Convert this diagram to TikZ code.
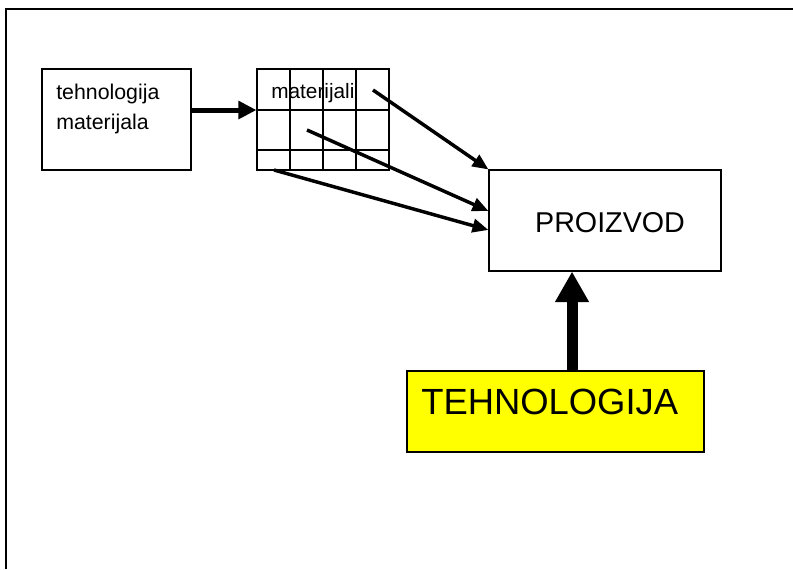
\documentclass[tikz,border=0pt]{standalone}
\usepackage{fontspec}
\setmainfont{Liberation Sans}
\usetikzlibrary{arrows.meta}
\definecolor{tehyellow}{RGB}{255,255,0}

\begin{document}
\begin{tikzpicture}[x=0.75pt,y=-0.75pt,
                  box/.style={draw, line width=0.8pt, inner sep=0pt},
                  txt/.style={inner sep=0pt, anchor=base west},
                  thin arrow/.style={line width=2.6pt, -{Triangle[length=12pt,width=10pt]}},
                  thick arrow/.style={line width=3.8pt, -{Triangle[length=13.5pt,width=13pt]}}]
            \useasboundingbox (0,0) rectangle (793,569);
            % frame of the slide
            \draw[line width=1.1pt] (6,569) -- (6,9) -- (793,9);
            % boxes
            \node[box, minimum width=111.75pt, minimum height=75.75pt] (tehmat) at (116.5,119.5) {};
            \node[box, minimum width=99pt, minimum height=75.75pt] (grid) at (323,119.5) {};
            \node[box, minimum width=174pt, minimum height=75.75pt] (proizvod) at (605,220.5) {};
            \node[box, fill=tehyellow, minimum width=222.75pt, minimum height=60.75pt] (tehno) at (555.5,411.5) {};
            % grid lines
            \foreach \cx in {290,323,356}
                  \draw[line width=0.8pt] (\cx,69) -- (\cx,170);
            \foreach \ry in {110,150}
                  \draw[line width=0.8pt] (257,\ry) -- (389,\ry);
            % texts
            \node[txt, font=\fontsize{16}{20}\selectfont] (tehmat1) at (56,99) {tehnologija};
            \node[txt, font=\fontsize{16}{20}\selectfont] (tehmat2) at (56,129) {materijala};
            \node[txt, font=\fontsize{15.6}{20}\selectfont] (mat) at (271,98) {materijali};
            \node[txt, font=\fontsize{21.5}{26}\selectfont, anchor=base] (prod) at (610,232) {PROIZVOD};
            \node[txt, font=\fontsize{27.3}{32}\selectfont] (tech) at (421,414) {TEHNOLOGIJA};
            % connectors
            \coordinate (m1) at (373,90);
            \coordinate (m2) at (307,130);
            \coordinate (m3) at (274,170);
            \draw[thick arrow] ([yshift=7.1pt]tehmat.east) -- ([yshift=7.1pt]grid.west);
            \draw[thin arrow] (m1) -- (proizvod.north west);
            \draw[thin arrow] (m2) -- ([yshift=7.1pt]proizvod.west);
            \draw[thin arrow] (m3) -- ([yshift=-7.1pt]proizvod.west);
            \draw[line width=8.25pt, -{Triangle[length=23pt,width=24pt]}]
                  ([xshift=12.4pt]tehno.north) -- ([xshift=12.4pt]tehno.north |- proizvod.south);
\end{tikzpicture}
\end{document}
